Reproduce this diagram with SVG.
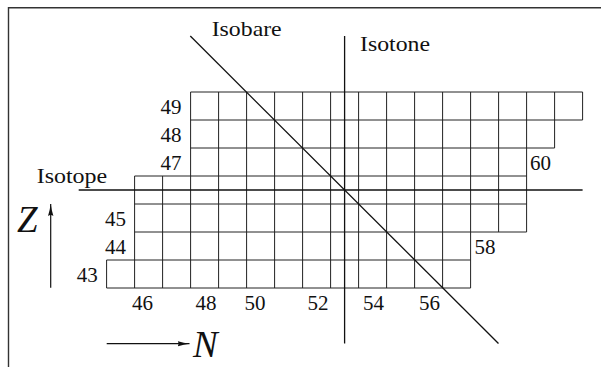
<svg xmlns="http://www.w3.org/2000/svg" width="601" height="367" viewBox="0 0 601 367">
<style>
  .txt { font-family: "Liberation Serif", "DejaVu Serif", serif; font-size: 21px; fill: #111; }
  .big { font-family: "Liberation Serif", "DejaVu Serif", serif; font-style: italic; font-size: 37px; fill: #111; }
  .grid { fill: none; stroke: #222; stroke-width: 1; }
  .main { fill: none; stroke: #111; stroke-width: 1.3; }
  .frame { fill: none; stroke: #333; stroke-width: 1.4; }
  .axis { fill: none; stroke: #111; stroke-width: 1.2; }
</style>
<defs>
  <marker id="arrow" viewBox="0 0 12 6" refX="12" refY="3" markerWidth="12" markerHeight="6" markerUnits="userSpaceOnUse" orient="auto">
    <path d="M0,0.3 Q6,2.2 12,3 Q6,3.8 0,5.7 Q2,3 0,0.3 z" fill="#111"/>
  </marker>
</defs>
<rect x="0" y="0" width="601" height="367" fill="#fff"/>
<g id="frame">
  <path class="frame" d="M8.5,367 V7.7 H601"/>
</g>
<g id="grid">
  <path class="grid" d="
    M190.6,92 H582.6
    M190.6,120 H582.6
    M190.6,148 H554.6
    M134.6,176 H526.6
    M134.6,204 H526.6
    M134.6,232 H526.6
    M106.6,260 H470.6
    M106.6,288 H470.6
    M106.6,260 V288
    M134.6,176 V288
    M162.6,176 V288
    M190.6,92 V288
    M218.6,92 V288
    M246.6,92 V288
    M274.6,92 V288
    M302.6,92 V288
    M330.6,92 V288
    M358.6,92 V288
    M386.6,92 V288
    M414.6,92 V288
    M442.6,92 V288
    M470.6,92 V288
    M498.6,92 V232
    M526.6,92 V232
    M554.6,92 V148
    M582.6,92 V120"/>
</g>
<g id="connectors">
  <line id="isotope-line" class="main" x1="78.7" y1="190" x2="582.6" y2="190"/>
  <line id="isotone-line" class="main" x1="344.6" y1="36" x2="344.6" y2="343.5"/>
  <line id="isobare-line" class="main" x1="190.3" y1="36" x2="498.5" y2="343.5"/>
  <line id="z-arrow" class="axis" x1="50.7" y1="287.7" x2="50.7" y2="204" marker-end="url(#arrow)"/>
  <line id="n-arrow" class="axis" x1="106.7" y1="343.7" x2="189.5" y2="343.7" marker-end="url(#arrow)"/>
</g>
<g id="line-labels">
  <text class="txt" x="211.7" y="36" textLength="70" lengthAdjust="spacingAndGlyphs">Isobare</text>
  <text class="txt" x="360" y="51" textLength="70" lengthAdjust="spacingAndGlyphs">Isotone</text>
  <text class="txt" x="36.7" y="182.5" textLength="70.5" lengthAdjust="spacingAndGlyphs">Isotope</text>
</g>
<g id="z-labels" class="txt">
  <text x="181.5" y="114" text-anchor="end">49</text>
  <text x="181.5" y="142" text-anchor="end">48</text>
  <text x="181.5" y="170" text-anchor="end">47</text>
  <text x="126" y="226" text-anchor="end">45</text>
  <text x="126" y="254" text-anchor="end">44</text>
  <text x="97.7" y="282" text-anchor="end">43</text>
  <text x="530" y="170">60</text>
  <text x="474.5" y="254">58</text>
</g>
<g id="n-labels" class="txt" text-anchor="middle">
  <text x="142.5" y="310">46</text>
  <text x="206" y="310">48</text>
  <text x="255" y="310">50</text>
  <text x="318" y="310">52</text>
  <text x="373.5" y="310">54</text>
  <text x="429.5" y="310">56</text>
</g>
<g id="axis-labels">
  <text class="big" x="17" y="231.7">Z</text>
  <text class="big" x="193" y="356.7">N</text>
</g>
</svg>
